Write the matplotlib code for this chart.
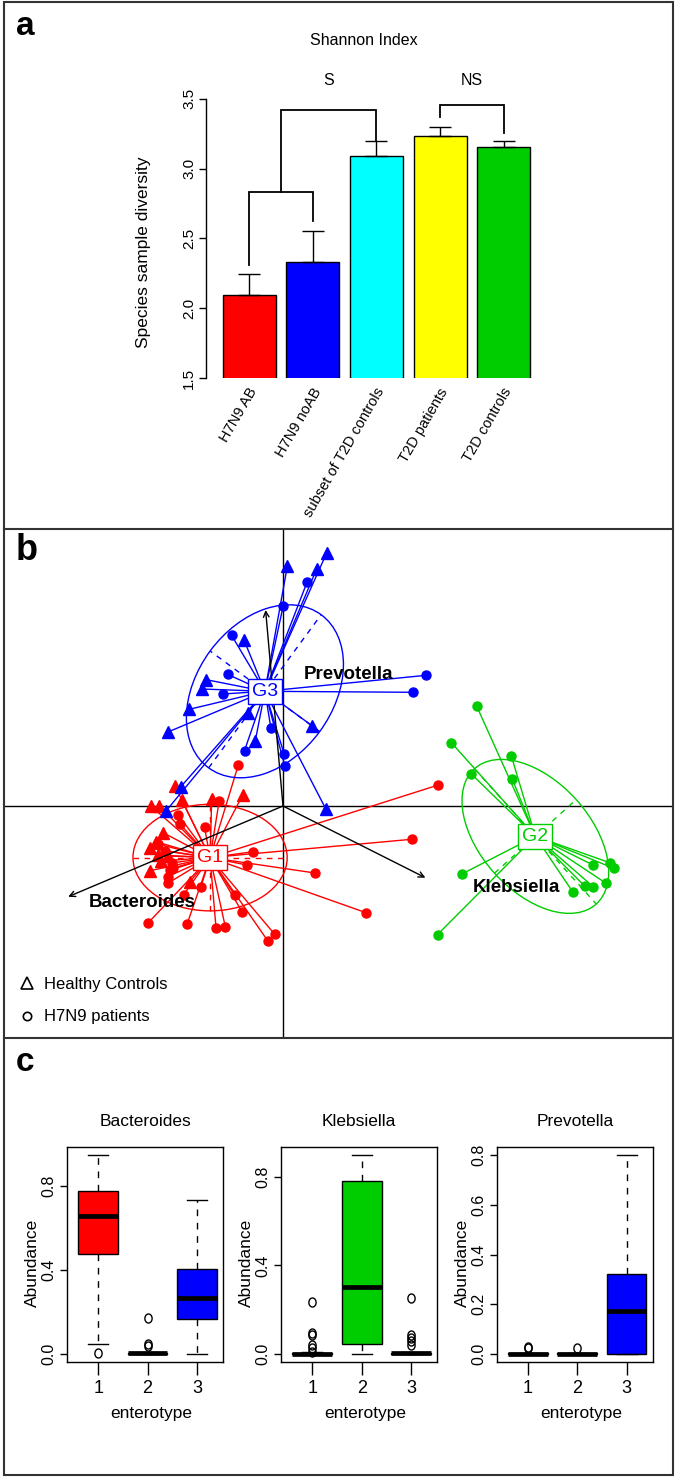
import numpy as np
import matplotlib
matplotlib.use("Agg")
import matplotlib.pyplot as plt
from matplotlib.patches import Ellipse, Rectangle
from matplotlib.collections import LineCollection
from matplotlib.lines import Line2D
from matplotlib.path import Path
from matplotlib.transforms import ScaledTranslation

plt.rcParams['font.family'] = ['Liberation Sans', 'DejaVu Sans']

W, H, DPI = 675, 1479, 100

# ---------------- Panel a data ----------------
a_groups = ["H7N9 AB", "H7N9 noAB", "subset of T2D controls", "T2D patients", "T2D controls"]
a_means = [2.094, 2.331, 3.087, 3.233, 3.154]
a_err = [0.151, 0.222, 0.112, 0.067, 0.041]
a_colors = ["#FF0000", "#0000FF", "#00FFFF", "#FFFF00", "#00CD00"]
a_yticks = [1.5, 2.0, 2.5, 3.0, 3.5]
a_br_left = [0.0, 0.5, 3.0]
a_br_right = [1.0, 2.0, 4.0]
a_br_top = [2.834, 3.421, 3.457]
a_br_lbot = [2.309, 2.834, 3.367]
a_br_rbot = [2.626, 3.20, 3.252]
a_sig_labels = ["S", "NS"]
a_sig_center = [1.25, 3.5]
a_sig_level = 3.60

# ---------------- Panel b data ----------------
g_names = ["G1", "G2", "G3"]
g_colors = ["#FF0000", "#00CC00", "#0000FF"]
g1_tri_x = [-1.323, -1.237, -1.08, -1.013, -0.713, -0.403, -1.197, -1.27, -1.33, -1.247, -1.33, -0.93, -1.22, -1.15]
g1_tri_y = [0.0, 0.0, 0.2, 0.06, 0.07, 0.11, -0.267, -0.357, -0.423, -0.49, -0.647, -0.757, -0.55, -0.5]
g1_cir_x = [-0.447, 1.553, 1.287, 0.32, 0.83, -0.297, -0.363, -0.785, -0.638, -1.047, -1.03, -1.113, -1.13,
            -1.155, -1.147, -0.82, -0.995, -0.485, -0.41, -1.347, -0.958, -0.67, -0.577, -0.15, -0.084,
            -1.18, -1.1, -1.25]
g1_cir_y = [0.41, 0.21, -0.333, -0.67, -1.067, -0.457, -0.59, -0.21, 0.05, -0.09, -0.18, -0.57, -0.64,
            -0.707, -0.77, -0.807, -0.89, -0.89, -1.057, -1.167, -1.178, -1.217, -1.207, -1.352, -1.282,
            -0.45, -0.62, -0.38]
g2_tri_x = []
g2_tri_y = []
g2_cir_x = [1.935, 1.684, 2.282, 1.884, 2.294, 1.785, 1.545, 3.10, 3.268, 3.31, 3.227, 3.016, 3.102, 2.896]
g2_cir_y = [1.003, 0.633, 0.505, 0.32, 0.267, -0.682, -1.286, -0.59, -0.567, -0.624, -0.77, -0.80, -0.807, -0.857]
g3_tri_x = [0.435, 0.043, 0.335, -0.39, -0.767, -0.813, -0.937, -1.155, -0.35, -0.277, 0.287, 0.43, -1.02, -1.17]
g3_tri_y = [2.527, 2.397, 2.367, 1.66, 1.263, 1.17, 0.967, 0.738, 0.93, 0.652, 0.805, -0.033, 0.195, -0.05]
g3_cir_x = [0.24, 0.002, -0.515, -0.555, -0.603, 1.433, 1.303, -0.122, -0.385, 0.012, 0.017]
g3_cir_y = [2.237, 2.002, 1.708, 1.317, 1.12, 1.307, 1.137, 0.785, 0.553, 0.518, 0.405]
ell_width = [1.542, 1.82, 1.90]
ell_height = [1.066, 1.10, 1.36]
ell_angle = [0.0, -48.0, 53.7]

arrow_names = ["Bacteroides", "Klebsiella", "Prevotella"]
arrow_x = [-2.148, 1.424, -0.174]
arrow_y = [-0.907, -0.717, 1.96]
arrow_lab_x = [-1.403, 2.333, 0.658]
arrow_lab_y = [-1.007, -0.857, 1.267]
legend_labels = ["Healthy Controls", "H7N9 patients"]

# ---------------- Panel c data ----------------
c_genera = ["Bacteroides", "Klebsiella", "Prevotella"]
c_enterotypes = ["1", "2", "3"]
c_box_colors = ["#FF0000", "#00CD00", "#0000FF"]
c_whislo = [[0.046, 0.0, 0.0], [0.0, 0.0, 0.0], [0.0, 0.0, 0.0]]
c_q1 = [[0.478, 0.0, 0.165], [0.0, 0.045, 0.0], [0.0, 0.0, 0.0]]
c_med = [[0.657, 0.002, 0.268], [0.001, 0.304, 0.002], [0.001, 0.001, 0.174]]
c_q3 = [[0.778, 0.005, 0.406], [0.003, 0.782, 0.004], [0.002, 0.002, 0.32]]
c_whishi = [[0.948, 0.010, 0.732], [0.006, 0.898, 0.008], [0.004, 0.004, 0.80]]
c_fliers = [[[0.003], [0.035, 0.048, 0.17], []],
            [[0.01, 0.026, 0.041, 0.086, 0.096, 0.236], [], [0.041, 0.056, 0.071, 0.086, 0.251]],
            [[0.023, 0.026], [0.022], []]]
c_yticks = [[0.0, 0.4, 0.8], [0.0, 0.4, 0.8], [0.0, 0.2, 0.4, 0.6, 0.8]]

# ---------------- Figure ----------------
fig = plt.figure(figsize=(W / DPI, H / DPI), dpi=DPI)


def px_axes(x0, y0, x1, y1, **kw):
    ax = fig.add_axes([x0 / W, 1 - y1 / H, (x1 - x0) / W, (y1 - y0) / H], **kw)
    ax.patch.set_alpha(0)
    return ax


# ===== Panel a =====
axa = px_axes(206, 60, 545, 378)
bar_x = 0.7 + 1.2 * np.arange(len(a_means))
axa.bar(bar_x, a_means, width=1.0, color=a_colors, edgecolor="black", linewidth=1.0, zorder=2)
axa.errorbar(bar_x, a_means, yerr=[np.zeros(len(a_err)), a_err], fmt="none", ecolor="black",
             elinewidth=1.0, capsize=7.8, capthick=1.0, zorder=3)
axa.set_ylim(1.5, 1.5 + 318 / 139.65)
axa.set_xlim(-0.115, 6.281)
for l, r, top, lb, rb in zip(a_br_left, a_br_right, a_br_top, a_br_lbot, a_br_rbot):
    xl = 0.7 + 1.2 * l
    xr = 0.7 + 1.2 * r
    axa.plot([xl, xl, xr, xr], [lb, top, top, rb], color="black", lw=1.3, zorder=4,
             solid_joinstyle="miter", clip_on=False)
for lab, c in zip(a_sig_labels, a_sig_center):
    axa.text(0.7 + 1.2 * c, a_sig_level, lab, ha="center", va="baseline", fontsize=11.5)
axa.text(2.858, 3.885, "Shannon Index", ha="center", va="baseline", fontsize=11.5)
for s in ["top", "right", "bottom"]:
    axa.spines[s].set_visible(False)
axa.spines["left"].set_bounds(1.5, 3.5)
axa.spines["left"].set_linewidth(1.0)
axa.set_yticks(a_yticks, labels=[f"{v:.1f}" for v in a_yticks])
axa.tick_params(axis="y", length=5, width=1.0, labelsize=11, labelrotation=90, pad=2)
for t in axa.get_yticklabels():
    t.set_va("center")
axa.set_xticks(bar_x, labels=a_groups)
axa.tick_params(axis="x", length=0, labelsize=10.5, pad=8)
off = ScaledTranslation(5 / DPI, 0, fig.dpi_scale_trans)
for t in axa.get_xticklabels():
    t.set_rotation(60)
    t.set_ha("right")
    t.set_va("center")
    t.set_rotation_mode("anchor")
    t.set_transform(t.get_transform() + off)
axa.set_ylabel("Species sample diversity", fontsize=12.5)
axa.yaxis.set_label_coords(-0.162, (378 - 252.5) / 318)

# ===== Panel b =====
axb = px_axes(4, 529, 673, 1038)
axb.set_xlim((4 - 283) / 100, (673 - 283) / 100)
axb.set_ylim((806 - 1038) / 100, (806 - 529) / 100)
axb.axis("off")
axb.axhline(0, color="black", lw=1.0, zorder=1)
axb.axvline(0, color="black", lw=1.0, zorder=1)

groups = [
    (g1_tri_x, g1_tri_y, g1_cir_x, g1_cir_y),
    (g2_tri_x, g2_tri_y, g2_cir_x, g2_cir_y),
    (g3_tri_x, g3_tri_y, g3_cir_x, g3_cir_y),
]
for gi, (tx, ty, cx, cy) in enumerate(groups):
    col = g_colors[gi]
    xs = np.r_[tx, cx]
    ys = np.r_[ty, cy]
    x0, y0 = xs.mean(), ys.mean()
    segs = [[(x0, y0), (x, y)] for x, y in zip(xs, ys)]
    axb.add_collection(LineCollection(segs, colors=col, linewidths=1.0, zorder=2))
    axb.add_patch(Ellipse((x0, y0), ell_width[gi], ell_height[gi], angle=ell_angle[gi],
                          fill=False, ec=col, lw=1.0, zorder=2))
    th = np.deg2rad(ell_angle[gi])
    u = np.array([np.cos(th), np.sin(th)])
    v = np.array([-np.sin(th), np.cos(th)])
    for vec, half in ((u, ell_width[gi] / 2), (v, ell_height[gi] / 2)):
        axb.plot([x0 - half * vec[0], x0 + half * vec[0]], [y0 - half * vec[1], y0 + half * vec[1]],
                 color=col, lw=1.0, ls=(0, (4, 4)), zorder=2)
    if len(tx):
        axb.plot(tx, ty, ls="none", marker="^", ms=8, color=col, zorder=3)
    axb.plot(cx, cy, ls="none", marker="o", ms=6.5, color=col, zorder=3)
    axb.text(x0, y0, g_names[gi], color=col, fontsize=14, ha="center", va="center", zorder=6,
             bbox=dict(boxstyle="square,pad=0.2", fc="white", ec=col, lw=1.0))

for name, x, y, lx, ly in zip(arrow_names, arrow_x, arrow_y, arrow_lab_x, arrow_lab_y):
    axb.annotate("", xy=(x, y), xytext=(0, 0),
                 arrowprops=dict(arrowstyle="->", lw=1.0, color="black", shrinkA=0, shrinkB=0,
                                 mutation_scale=10), zorder=4)
    axb.text(lx, ly, name, fontsize=13.5, fontweight="bold", ha="center", va="baseline", zorder=5)

handles = [Line2D([], [], ls="none", marker="^", ms=8, mfc="none", mec="black", mew=1.2),
           Line2D([], [], ls="none", marker="o", ms=6, mfc="none", mec="black", mew=1.2)]
axb.legend(handles, legend_labels, loc="upper left", bbox_to_anchor=(0.022, 0.120), frameon=False,
           fontsize=12, handlelength=1.0, handletextpad=0.5, labelspacing=1.05, borderaxespad=0,
           borderpad=0)

# ===== Panel c =====
tt = np.linspace(0, 2 * np.pi, 40)
oval = Path(np.c_[0.8 * np.cos(tt), np.sin(tt)], closed=True)
c_lefts = [67, 281.1, 496.6]
for k in range(3):
    ax = px_axes(c_lefts[k], 1147.3, c_lefts[k] + 156.3, 1361.7)
    stats = []
    for g in range(3):
        stats.append(dict(med=c_med[k][g], q1=c_q1[k][g], q3=c_q3[k][g], whislo=c_whislo[k][g],
                          whishi=c_whishi[k][g], fliers=c_fliers[k][g]))
    bp = ax.bxp(stats, positions=[1, 2, 3], widths=0.8, patch_artist=True, capwidths=0.4,
                boxprops=dict(edgecolor="black", linewidth=1.0),
                medianprops=dict(color="black", linewidth=3.4, solid_capstyle="butt"),
                whiskerprops=dict(color="black", linewidth=1.0, linestyle=(0, (4.8, 4.8))),
                capprops=dict(color="black", linewidth=1.0),
                flierprops=dict(marker=oval, markersize=6.5, markerfacecolor="none",
                                markeredgecolor="black", markeredgewidth=1.0))
    for patch, col in zip(bp["boxes"], c_box_colors):
        patch.set_facecolor(col)
    allv = [v for g in range(3) for v in [c_whislo[k][g], c_whishi[k][g]] + c_fliers[k][g]]
    lo, hi = min(allv), max(allv)
    rng = hi - lo
    ax.set_ylim(lo - 0.04 * rng, hi + 0.04 * rng)
    ax.set_xlim(0.37, 3.53)
    ax.set_xticks([1, 2, 3], labels=c_enterotypes)
    ax.set_yticks(c_yticks[k], labels=[f"{v:.1f}" for v in c_yticks[k]])
    ax.tick_params(axis="x", length=9, width=1.0, labelsize=13, pad=4)
    ax.tick_params(axis="y", length=4.7, width=1.0, labelsize=11.5, labelrotation=90, pad=3)
    for t in ax.get_yticklabels():
        t.set_va("center")
    for s in ax.spines.values():
        s.set_linewidth(1.0)
    ax.set_title(c_genera[k], fontsize=12.5, pad=15)
    ax.set_xlabel("enterotype", fontsize=12.5)
    ax.xaxis.set_label_coords(0.54, -0.207)
    ax.set_ylabel("Abundance", fontsize=12.5)
    ax.yaxis.set_label_coords(-0.171, 0.459)

# ===== Frame and panel letters =====
fr = fig.add_axes([0, 0, 1, 1], zorder=10)
fr.patch.set_alpha(0)
fr.set_xlim(0, W)
fr.set_ylim(H, 0)
fr.axis("off")
fr.add_patch(Rectangle((4, 2), 669, 1473, fill=False, ec="#333333", lw=1.5))
fr.plot([4, 673], [529, 529], color="#333333", lw=1.5)
fr.plot([4, 673], [1038, 1038], color="#333333", lw=1.5)
fr.text(16, 35, "a", fontsize=24, fontweight="bold", va="baseline", ha="left")
fr.text(16, 560, "b", fontsize=26, fontweight="bold", va="baseline", ha="left")
fr.text(16, 1071, "c", fontsize=24, fontweight="bold", va="baseline", ha="left")

fig.savefig("out.png", dpi=DPI)
